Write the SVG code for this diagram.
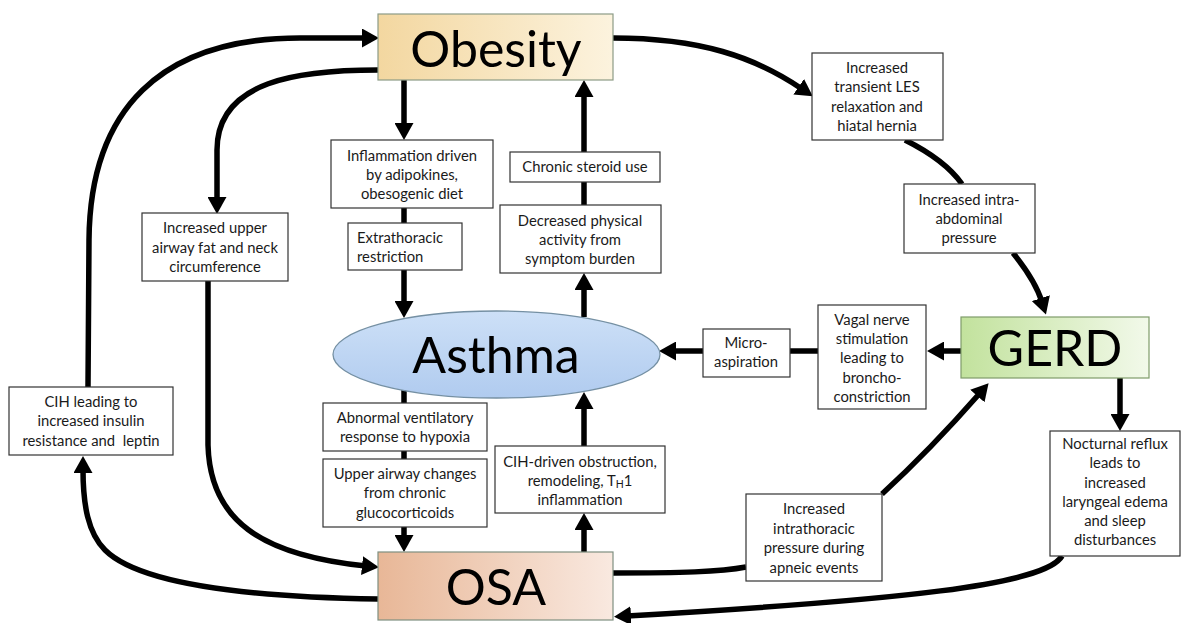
<svg xmlns="http://www.w3.org/2000/svg" width="1185" height="623" viewBox="0 0 1185 623">
<defs>
<linearGradient id="gObesity" x1="0" y1="0" x2="1" y2="0"><stop offset="0" stop-color="#f3d7a0"/><stop offset="1" stop-color="#fcf3de"/></linearGradient>
<linearGradient id="gOSA" x1="0" y1="0" x2="1" y2="0"><stop offset="0" stop-color="#e8b797"/><stop offset="1" stop-color="#f9e9e0"/></linearGradient>
<linearGradient id="gGERD" x1="0" y1="0" x2="1" y2="0"><stop offset="0" stop-color="#c2e29d"/><stop offset="1" stop-color="#f2f9ea"/></linearGradient>
<linearGradient id="gAsthma" x1="0" y1="0" x2="0" y2="1"><stop offset="0" stop-color="#cde0f7"/><stop offset="1" stop-color="#b0cbef"/></linearGradient>
<marker id="ah" markerUnits="userSpaceOnUse" markerWidth="17" markerHeight="19" viewBox="0 0 17 19" refX="4" refY="9.5" orient="auto"><path d="M0,0 L17,9.5 L0,19 z" fill="#000"/></marker>
<style>
.box{fill:#fff;stroke:#333;stroke-width:1.2}
.t{font-family:Lato,"Open Sans",sans-serif;font-size:14.8px;fill:#1a1a1a;text-anchor:middle}
.tl{text-anchor:start}
.big{font-family:Lato,"Open Sans",sans-serif;font-size:50px;fill:#000;text-anchor:middle}
.c{fill:none;stroke:#000;stroke-width:5.5}
.a{marker-end:url(#ah)}
</style>
</defs>

<g id="connectors">
<path class="c a" d="M404 80 L404 127"/>
<path class="c" d="M404 208 L404 223"/>
<path class="c a" d="M404 270 L404 305"/>
<path class="c" d="M404 390 L404 403"/>
<path class="c" d="M404 451 L404 459"/>
<path class="c a" d="M404 527 L404 539"/>
<path class="c a" d="M584 552 L584 526"/>
<path class="c a" d="M584 446 L584 405"/>
<path class="c a" d="M584 317 L584 286"/>
<path class="c" d="M584 205 L584 182"/>
<path class="c a" d="M584 152 L584 93"/>
<path class="c a" d="M613 38 C700 38 755 57 802 89"/>
<path class="c" d="M905 140 Q945 160 962 184"/>
<path class="c a" d="M1013 253 Q1035 280 1042 302"/>
<path class="c a" d="M961 351 L940 351"/>
<path class="c" d="M818 351 L790 351"/>
<path class="c a" d="M703 351 L672 351"/>
<path class="c a" d="M1120 378 L1120 418"/>
<path class="c a" d="M1062 556 C1045 585 900 600 627 616"/>
<path class="c" d="M613 573 C680 573 720 572 746 567"/>
<path class="c a" d="M882 494 Q930 450 980 393"/>
<path class="c a" d="M378 599 C250 597 140 585 105 550 C88 533 83 505 83 469"/>
<path class="c a" d="M88 387 L89 240 C90 110 160 38 300 38 L366 38"/>
<path class="c a" d="M378 70 C300 70 217 80 217 150 L217 201"/>
<path class="c a" d="M208 281 L208 445 C210 520 260 555 366 566"/>
</g>

<g id="obesity">
<rect x="378" y="14" width="235" height="66" fill="url(#gObesity)" stroke="#8c9b86" stroke-width="1.2"/>
<text class="big" x="496" y="67" font-size="53">Obesity</text>
</g>
<g id="asthma">
<ellipse cx="496.5" cy="354.5" rx="163.5" ry="43.5" fill="url(#gAsthma)" stroke="#7590a3" stroke-width="1.3"/>
<text class="big" x="496" y="373" font-size="53">Asthma</text>
</g>
<g id="osa">
<rect x="378" y="552" width="235" height="68" fill="url(#gOSA)" stroke="#7f8f80" stroke-width="1.2"/>
<text class="big" x="496" y="605">OSA</text>
</g>
<g id="gerd">
<rect x="961" y="317" width="188" height="61" fill="url(#gGERD)" stroke="#7f9c6a" stroke-width="1.2"/>
<text class="big" x="1055" y="366">GERD</text>
</g>

<g id="inflammation">
<rect class="box" x="331" y="140" width="162" height="68"/>
<text class="t" x="412"><tspan x="412" y="161">Inflammation driven</tspan><tspan x="412" y="180">by adipokines,</tspan><tspan x="412" y="199">obesogenic diet</tspan></text>
</g>
<g id="extrathoracic">
<rect class="box" x="348" y="223" width="114" height="47"/>
<text class="t tl" x="357"><tspan x="357" y="243">Extrathoracic</tspan><tspan x="357" y="262">restriction</tspan></text>
</g>
<g id="steroid">
<rect class="box" x="510" y="152" width="150" height="30"/>
<text class="t" x="585" y="172">Chronic steroid use</text>
</g>
<g id="decreased">
<rect class="box" x="500" y="205" width="161" height="68"/>
<text class="t" x="580"><tspan x="580" y="226">Decreased physical</tspan><tspan x="580" y="245">activity from</tspan><tspan x="580" y="264">symptom burden</tspan></text>
</g>
<g id="abnormal">
<rect class="box" x="323" y="403" width="164" height="48"/>
<text class="t" x="405"><tspan x="405" y="423">Abnormal ventilatory</tspan><tspan x="405" y="442">response to hypoxia</tspan></text>
</g>
<g id="upperairwaychanges">
<rect class="box" x="323" y="459" width="164" height="68"/>
<text class="t" x="405"><tspan x="405" y="479">Upper airway changes</tspan><tspan x="405" y="498">from chronic</tspan><tspan x="405" y="518">glucocorticoids</tspan></text>
</g>
<g id="cihdriven">
<rect class="box" x="495" y="446" width="170" height="67"/>
<text class="t" x="580"><tspan x="580" y="467">CIH-driven obstruction,</tspan><tspan x="580" y="486">remodeling, T<tspan font-size="10.5" dy="2">H</tspan><tspan dy="-2">1</tspan></tspan><tspan x="580" y="505">inflammation</tspan></text>
</g>
<g id="les">
<rect class="box" x="812" y="53" width="131" height="87"/>
<text class="t" x="877"><tspan x="877" y="73">Increased</tspan><tspan x="877" y="92">transient LES</tspan><tspan x="877" y="112">relaxation and</tspan><tspan x="877" y="131">hiatal hernia</tspan></text>
</g>
<g id="intraabdominal">
<rect class="box" x="904" y="184" width="131" height="69"/>
<text class="t" x="969"><tspan x="969" y="205">Increased intra-</tspan><tspan x="969" y="224">abdominal</tspan><tspan x="969" y="243">pressure</tspan></text>
</g>
<g id="microaspiration">
<rect class="box" x="703" y="329" width="87" height="48"/>
<text class="t" x="746"><tspan x="746" y="348">Micro-</tspan><tspan x="746" y="367">aspiration</tspan></text>
</g>
<g id="vagal">
<rect class="box" x="818" y="305" width="108" height="104"/>
<text class="t" x="872"><tspan x="872" y="325">Vagal nerve</tspan><tspan x="872" y="344">stimulation</tspan><tspan x="872" y="363">leading to</tspan><tspan x="872" y="383">broncho-</tspan><tspan x="872" y="402">constriction</tspan></text>
</g>
<g id="nocturnal">
<rect class="box" x="1050" y="431" width="130" height="125"/>
<text class="t" x="1115"><tspan x="1115" y="449">Nocturnal reflux</tspan><tspan x="1115" y="468">leads to</tspan><tspan x="1115" y="488">increased</tspan><tspan x="1115" y="507">laryngeal edema</tspan><tspan x="1115" y="526">and sleep</tspan><tspan x="1115" y="545">disturbances</tspan></text>
</g>
<g id="intrathoracic">
<rect class="box" x="746" y="494" width="136" height="87"/>
<text class="t" x="814"><tspan x="814" y="514">Increased</tspan><tspan x="814" y="534">intrathoracic</tspan><tspan x="814" y="553">pressure during</tspan><tspan x="814" y="573">apneic events</tspan></text>
</g>
<g id="upperairwayfat">
<rect class="box" x="142" y="213" width="146" height="68"/>
<text class="t" x="215"><tspan x="215" y="233">Increased upper</tspan><tspan x="215" y="253">airway fat and neck</tspan><tspan x="215" y="272">circumference</tspan></text>
</g>
<g id="cihleading">
<rect class="box" x="9" y="387" width="164" height="68"/>
<text class="t" x="91"><tspan x="91" y="407">CIH leading to</tspan><tspan x="91" y="426">increased insulin</tspan><tspan x="91" y="446" xml:space="preserve">resistance and  leptin</tspan></text>
</g>
</svg>
